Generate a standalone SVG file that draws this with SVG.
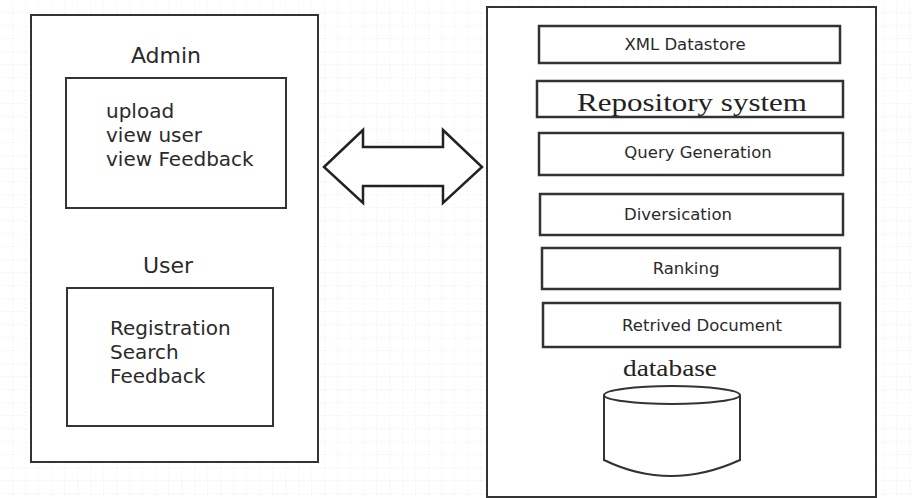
<svg xmlns="http://www.w3.org/2000/svg" width="912" height="498" viewBox="0 0 912 498">
<defs>
<pattern id="grid" width="13" height="13" patternUnits="userSpaceOnUse">
<path d="M13 0 V13 M0 13 H13" fill="none" stroke="#e9edf1" stroke-width="1" stroke-dasharray="2 2"/>
</pattern>
<style>
.box{fill:#fff;stroke:#333;stroke-width:2}
.thin{fill:#fff;stroke:#333;stroke-width:2.5}
.sans{font-family:"DejaVu Sans","Liberation Sans",sans-serif;fill:#2a2a2a}
.lbl{font-size:16.5px;text-anchor:middle}
.big{font-size:20px}
.head{font-size:22px;text-anchor:middle}
.serif{font-family:"Liberation Serif","DejaVu Serif",serif;fill:#222}
</style>
</defs>
<rect width="912" height="498" fill="#fff"/>
<rect width="912" height="498" fill="url(#grid)"/>

<g id="left-panel">
<rect class="box" x="31" y="15" width="287" height="447"/>
</g>
<g id="admin">
<text class="sans head" x="166" y="63">Admin</text>
<rect class="box" x="66" y="78" width="220" height="130"/>
<text class="sans big" x="106" y="118">upload</text>
<text class="sans big" x="106" y="142">view user</text>
<text class="sans big" x="106" y="166">view Feedback</text>
</g>
<g id="user">
<text class="sans head" x="168" y="273">User</text>
<rect class="box" x="67" y="288" width="206" height="138"/>
<text class="sans big" x="110" y="335">Registration</text>
<text class="sans big" x="110" y="359">Search</text>
<text class="sans big" x="110" y="383">Feedback</text>
</g>

<g id="connectors">
<path d="M324 167 L363 130 L363 147 L443 147 L443 130 L482 167 L443 203 L443 186 L363 186 L363 203 Z" fill="#fff" stroke="#222" stroke-width="2.5" stroke-linejoin="miter"/>
</g>

<g id="right-panel">
<rect class="box" x="487" y="7" width="389" height="490"/>
</g>
<g id="xml-datastore">
<rect class="thin" x="539" y="26" width="301" height="37"/>
<text class="sans lbl" x="685" y="50">XML Datastore</text>
</g>
<g id="repository-system">
<rect class="thin" x="537" y="81" width="306" height="36"/>
<text class="serif" x="692" y="111" font-size="25" text-anchor="middle" textLength="230" lengthAdjust="spacingAndGlyphs">Repository system</text>
</g>
<g id="query-generation">
<rect class="thin" x="539" y="133" width="304" height="42"/>
<text class="sans lbl" x="698" y="158">Query Generation</text>
</g>
<g id="diversication">
<rect class="thin" x="540" y="194" width="303" height="41"/>
<text class="sans lbl" x="678" y="220">Diversication</text>
</g>
<g id="ranking">
<rect class="thin" x="542" y="248" width="298" height="41"/>
<text class="sans lbl" x="686" y="274">Ranking</text>
</g>
<g id="retrived-document">
<rect class="thin" x="543" y="303" width="297" height="44"/>
<text class="sans lbl" x="702" y="331">Retrived Document</text>
</g>
<g id="database">
<text class="serif" x="670" y="376" font-size="24" text-anchor="middle" textLength="94" lengthAdjust="spacingAndGlyphs">database</text>
<path d="M604 395 L604 460 Q670 492 740 460 L740 395" fill="#fff" stroke="#333" stroke-width="2"/>
<ellipse cx="672" cy="395" rx="68" ry="9" fill="#fff" stroke="#333" stroke-width="2"/>
</g>
</svg>
